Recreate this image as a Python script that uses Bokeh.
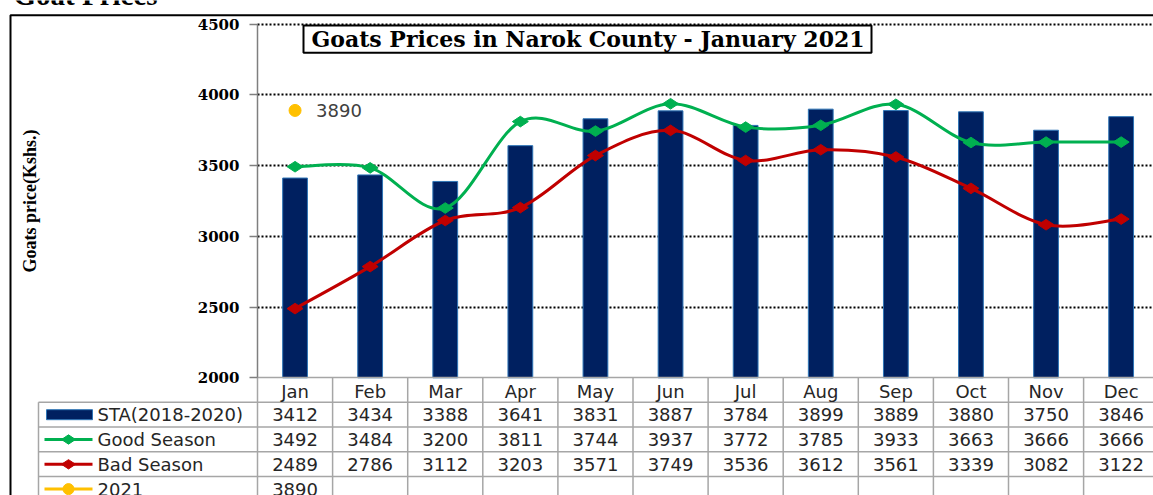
import numpy as np
from bokeh.plotting import figure
from bokeh.models import Range1d, LinearAxis, FixedTicker, Grid, ColumnDataSource
from bokeh.core.properties import value
from bokeh.embed import file_html
from bokeh.resources import INLINE

# ---------------- data ----------------
months = ["Jan", "Feb", "Mar", "Apr", "May", "Jun", "Jul", "Aug", "Sep", "Oct", "Nov", "Dec"]
sta = [3412, 3434, 3388, 3641, 3831, 3887, 3784, 3899, 3889, 3880, 3750, 3846]
good_season = [3492, 3484, 3200, 3811, 3744, 3937, 3772, 3785, 3933, 3663, 3666, 3666]
bad_season = [2489, 2786, 3112, 3203, 3571, 3749, 3536, 3612, 3561, 3339, 3082, 3122]
y2021 = [3890]
series_names = ["STA(2018-2020)", "Good Season", "Bad Season", "2021"]
y_ticks = [2000, 2500, 3000, 3500, 4000, 4500]
chart_title = "Goats Prices in Narok County - January 2021"
page_title = "Goat Prices"
y_label = "Goats price(Kshs.)"

# ---------------- layout helpers (page pixels -> data units) ----------------
W, H = 1153, 495
COL_LEFT_PX = 257.0
COL_W_PX = 75.1
BASE_PX = 377.3
PX_PER_UNIT = 0.14147
BASE_VAL = 2000


def xv(px):
    return -0.5 + (px - COL_LEFT_PX) / COL_W_PX


def yv(py):
    return BASE_VAL + (BASE_PX - py) / PX_PER_UNIT


NAVY = "#002060"
GREEN = "#00B050"
RED = "#C00000"
YELLOW = "#FFC000"
TABLE_LINE = "#A6A6A6"
TXT = "#262626"
SANS = value("DejaVu Sans")
SERIF = value("Liberation Serif")

p = figure(width=W, height=H,
           x_range=Range1d(xv(0), xv(W)), y_range=Range1d(yv(H), yv(0)),
           x_axis_type=None, y_axis_type=None,
           output_backend="svg", toolbar_location=None,
           min_border=0, margin=0)
p.outline_line_color = None
p.background_fill_color = "white"
p.border_fill_color = "white"

idx = list(range(len(months)))
src = ColumnDataSource(dict(x=idx, sta=sta, good=good_season, bad=bad_season))

# ---------------- grid ----------------
grid_ticks = y_ticks[1:]
grid_style = dict(grid_line_color="black", grid_line_dash="2 2", grid_line_width=2)
if "cross_bounds" in Grid.properties():
    yg = Grid(dimension=1, ticker=FixedTicker(ticks=grid_ticks), **grid_style)
    yg.cross_bounds = (-0.5, xv(W))
    p.add_layout(yg, "center")
else:
    p.segment(x0=[-0.5] * len(grid_ticks), x1=[xv(W)] * len(grid_ticks),
              y0=grid_ticks, y1=grid_ticks, line_color="black",
              line_dash="2 2", line_width=2)

# ---------------- axes ----------------
yax = LinearAxis(fixed_location=-0.5, bounds=(y_ticks[0], y_ticks[-1]),
                 ticker=FixedTicker(ticks=y_ticks))
yax.major_tick_out = 8
yax.major_tick_in = 0
yax.minor_tick_out = 0
yax.minor_tick_in = 0
yax.axis_line_color = "#7F7F7F"
yax.axis_line_width = 1.5
yax.major_tick_line_color = "#7F7F7F"
yax.major_tick_line_width = 1.5
yax.major_label_text_font = "DejaVu Serif"
yax.major_label_text_font_style = "bold"
yax.major_label_text_font_size = "15px"
yax.major_label_text_color = "black"
yax.major_label_standoff = 10
yax.axis_label = y_label
yax.axis_label_text_font = "Liberation Serif"
yax.axis_label_text_font_style = "bold"
yax.axis_label_text_font_size = "18px"
yax.axis_label_text_color = "black"
yax.axis_label_standoff = 155
p.add_layout(yax, "left")

xax = LinearAxis(fixed_location=BASE_VAL, bounds=(-0.5, xv(W)),
                 ticker=FixedTicker(ticks=idx),
                 major_label_overrides={i: m for i, m in enumerate(months)})
xax.major_tick_out = 0
xax.major_tick_in = 0
xax.minor_tick_out = 0
xax.minor_tick_in = 0
xax.axis_line_color = TABLE_LINE
xax.axis_line_width = 1.5
xax.major_label_text_font = "DejaVu Sans"
xax.major_label_text_font_size = "18px"
xax.major_label_text_color = TXT
xax.major_label_standoff = 3
p.add_layout(xax, "below")

# ---------------- bars ----------------
p.vbar(x="x", bottom=BASE_VAL, top="sta", width=0.33, fill_color=NAVY,
       line_color="#2E75B6", line_width=1, source=src)


# ---------------- smoothed lines ----------------
def smooth(xs, ys):
    n = len(xs)
    out = dict(x0=[], y0=[], x1=[], y1=[], cx0=[], cy0=[], cx1=[], cy1=[])
    for i in range(n - 1):
        a = max(i - 1, 0)
        b = min(i + 2, n - 1)
        out["x0"].append(xs[i]); out["y0"].append(ys[i])
        out["x1"].append(xs[i + 1]); out["y1"].append(ys[i + 1])
        out["cx0"].append(xs[i] + (xs[i + 1] - xs[a]) / 6)
        out["cy0"].append(ys[i] + (ys[i + 1] - ys[a]) / 6)
        out["cx1"].append(xs[i + 1] - (xs[b] - xs[i]) / 6)
        out["cy1"].append(ys[i + 1] - (ys[b] - ys[i]) / 6)
    return out


for ys, col in [(good_season, GREEN), (bad_season, RED)]:
    p.bezier(source=ColumnDataSource(smooth(idx, ys)), x0="x0", y0="y0", x1="x1", y1="y1",
             cx0="cx0", cy0="cy0", cx1="cx1", cy1="cy1", line_color=col, line_width=3)

p.scatter(x="x", y="good", source=src, marker="diamond", size=16, angle=np.pi / 2,
          fill_color=GREEN, line_color=GREEN)
p.scatter(x="x", y="bad", source=src, marker="diamond", size=16, angle=np.pi / 2,
          fill_color=RED, line_color=RED)

# 2021 point + label
p.scatter(x=idx[:len(y2021)], y=y2021, marker="circle", size=12, fill_color=YELLOW,
          line_color=YELLOW)
p.text(x=idx[:len(y2021)], y=y2021, text=[str(v) for v in y2021], x_offset=21,
       text_align="left", text_baseline="middle", text_font=SANS,
       text_font_size="18px", text_color="#404040")

# ---------------- chart title box ----------------
p.quad(left=[xv(303)], right=[xv(871)], top=[yv(25)], bottom=[yv(52.3)],
       fill_color="white", line_color="black", line_width=2)
p.text(x=[xv(587.5)], y=[yv(38.8)], text=[chart_title], text_align="center",
       text_baseline="middle", text_font=value("DejaVu Serif"), text_font_style="bold",
       text_font_size="22px", text_color="black")

# ---------------- outer frame + page title ----------------
p.line(x=[xv(10), xv(10), xv(W + 10)], y=[yv(H + 10), yv(14.7), yv(14.7)],
       line_color="black", line_width=2)
p.text(x=[xv(13)], y=[yv(-6)], text=[page_title], text_align="left",
       text_baseline="alphabetic", text_font=SERIF, text_font_style="bold",
       text_font_size="29px", text_color="black")

# ---------------- data table ----------------
row_lines_px = [401.7, 426.5, 451.3, 476.1]
row_centers_px = [414.2, 439.0, 463.8, 488.6]
legend_left_px = 38
n_cols = len(months)

# vertical column lines
vx = [k - 0.5 for k in range(n_cols + 1)]
p.segment(x0=vx, x1=vx, y0=[BASE_VAL] * len(vx), y1=[yv(H + 10)] * len(vx),
          line_color=TABLE_LINE, line_width=1.5)
p.segment(x0=[xv(legend_left_px)], x1=[xv(legend_left_px)], y0=[yv(row_lines_px[0])],
          y1=[yv(H + 10)], line_color=TABLE_LINE, line_width=1.5)
# horizontal row lines
p.segment(x0=[xv(legend_left_px)] * len(row_lines_px), x1=[xv(W + 10)] * len(row_lines_px),
          y0=[yv(v) for v in row_lines_px], y1=[yv(v) for v in row_lines_px],
          line_color=TABLE_LINE, line_width=1.5)

# values
for vals, ypx in zip([sta, good_season, bad_season, y2021], row_centers_px):
    p.text(x=idx[:len(vals)], y=[yv(ypx)] * len(vals), text=[str(v) for v in vals],
           text_align="center", text_baseline="middle", text_font=SANS,
           text_font_size="18px", text_color=TXT)

# legend column
p.text(x=[xv(97)] * len(series_names), y=[yv(v) for v in row_centers_px], text=series_names,
       text_align="left", text_baseline="middle", text_font=SANS,
       text_font_size="18px", text_color=TXT)
# legend swatches
p.quad(left=[xv(46)], right=[xv(92)], top=[yv(row_centers_px[0] - 5)],
       bottom=[yv(row_centers_px[0] + 5)], fill_color=NAVY, line_color="#2E75B6", line_width=1)
for ypx, col, mk, ang, sz in [(row_centers_px[1], GREEN, "diamond", np.pi / 2, 14),
                              (row_centers_px[2], RED, "diamond", np.pi / 2, 14),
                              (row_centers_px[3], YELLOW, "circle", 0, 11)]:
    p.segment(x0=[xv(44)], x1=[xv(92)], y0=[yv(ypx)], y1=[yv(ypx)], line_color=col,
              line_width=3)
    p.scatter(x=[xv(68)], y=[yv(ypx)], marker=mk, size=sz, angle=ang, fill_color=col,
              line_color=col)

open("out.html", "w").write(file_html(p, INLINE))
